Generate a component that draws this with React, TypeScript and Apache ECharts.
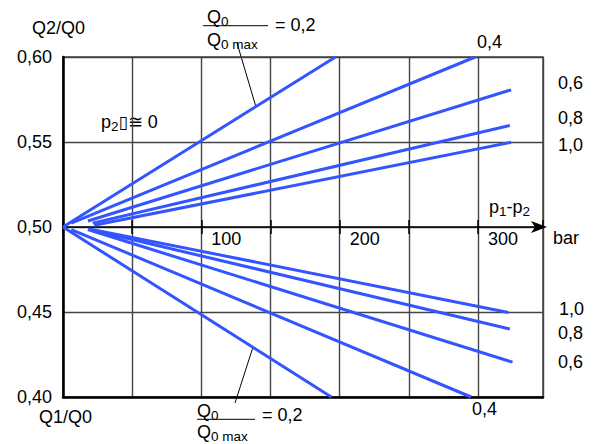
import React, { useEffect, useRef } from 'react';
import * as echarts from 'echarts';

// Axis ranges (p1-p2 in bar, Q2/Q0 ratio)
const X_MIN = 0;
const X_MAX = 347;
const X_STEP = 50;
const X_LABELS = [100, 200, 300];
const Y_MIN = 0.4;
const Y_MAX = 0.6;
const Y_STEP = 0.05;

// Curve parameter Q0/Q0max
const RATIOS = ['0,2', '0,4', '0,6', '0,8', '1,0'];

// Upper family (Q2/Q0): [start, end] points [bar, ratio]
const upper02 = [[0, 0.5], [197, 0.6]];
const upper04 = [[6, 0.5023], [298, 0.6]];
const upper06 = [[18, 0.5035], [324, 0.5807]];
const upper08 = [[21.5, 0.5023], [323, 0.5597]];
const upper10 = [[22.5, 0.501], [324, 0.5498]];

// Lower family (Q1/Q0)
const lower02 = [[0, 0.5], [194, 0.4]];
const lower04 = [[6, 0.4985], [295, 0.4]];
const lower06 = [[18, 0.4985], [325, 0.4205]];
const lower08 = [[18.5, 0.4987], [323, 0.44]];
const lower10 = [[19, 0.4989], [322, 0.4497]];

const UPPER = [upper02, upper04, upper06, upper08, upper10];
const LOWER = [lower02, lower04, lower06, lower08, lower10];

const FONT = '"Liberation Sans", Arial, sans-serif';
const BLUE = '#3355FF';
const GRID = '#444';

const RICH = {
  n: { fontSize: 18, fontFamily: FONT, color: '#000' },
  s: { fontSize: 13.5, fontFamily: FONT, color: '#000', padding: [9, 0, 0, 0] },
  b: { fontSize: 17, fontFamily: 'DejaVu Sans', color: '#000' },
};

function txt(x: number, y: number, text: string, align = 'left') {
  return {
    type: 'text',
    x,
    y,
    silent: true,
    style: {
      text,
      fill: '#000',
      fontSize: 18,
      fontFamily: FONT,
      textAlign: align,
      textVerticalAlign: 'middle',
      rich: RICH,
    },
  };
}

function seg(x1: number, y1: number, x2: number, y2: number) {
  return {
    type: 'line',
    silent: true,
    shape: { x1, y1, x2, y2 },
    style: { stroke: '#000', lineWidth: 1 },
  };
}

export default function App() {
  const ref = useRef<HTMLDivElement>(null);

  useEffect(() => {
    if (!ref.current) return;
    const chart = echarts.init(ref.current, undefined, { renderer: 'svg' });

    const series: any[] = [];
    UPPER.forEach((d, i) =>
      series.push({
        name: 'Q2 ' + RATIOS[i],
        type: 'line',
        data: d,
        showSymbol: false,
        symbol: 'none',
        silent: true,
        xAxisIndex: 0,
        yAxisIndex: 0,
        lineStyle: { color: BLUE, width: 3 },
      })
    );
    LOWER.forEach((d, i) =>
      series.push({
        name: 'Q1 ' + RATIOS[i],
        type: 'line',
        data: d,
        showSymbol: false,
        symbol: 'none',
        silent: true,
        xAxisIndex: 0,
        yAxisIndex: 0,
        lineStyle: { color: BLUE, width: 3 },
      })
    );

    const option: any = {
      animation: false,
      backgroundColor: '#fff',
      textStyle: { fontFamily: FONT },
      grid: {
        left: 63,
        top: 57,
        right: 50,
        bottom: 47,
        show: true,
        borderColor: GRID,
        borderWidth: 1.5,
        backgroundColor: 'transparent',
      },
      xAxis: [
        {
          type: 'value',
          min: X_MIN,
          max: X_MAX,
          interval: X_STEP,
          position: 'bottom',
          offset: -170,
          axisLine: {
            show: true,
            lineStyle: { color: '#000', width: 1.5 },
            symbol: ['none', 'arrow'],
            symbolSize: [9, 16],
            symbolOffset: [0, 4],
          },
          axisTick: { show: true, length: 7, lineStyle: { color: '#000', width: 1.5 } },
          axisLabel: {
            formatter: (v: number) => (X_LABELS.includes(v) ? String(v) : ''),
            align: 'left',
            padding: [0, 0, 0, 10],
            margin: 3,
            fontSize: 18,
            color: '#000',
            fontFamily: FONT,
            showMaxLabel: false,
          },
          splitLine: { show: true, lineStyle: { color: GRID, width: 1.4 } },
        },
        {
          type: 'value',
          min: X_MIN,
          max: X_MAX,
          interval: X_STEP,
          position: 'bottom',
          offset: -170,
          axisLine: { show: false },
          axisTick: { show: true, inside: true, length: 7, lineStyle: { color: '#000', width: 1.5 } },
          axisLabel: { show: false },
          splitLine: { show: false },
        },
        {
          type: 'value',
          min: X_MIN,
          max: X_MAX,
          position: 'bottom',
          offset: 0,
          axisLine: { show: true, lineStyle: { color: '#000', width: 2.5 } },
          axisTick: { show: false },
          axisLabel: { show: false },
          splitLine: { show: false },
        },
      ],
      yAxis: {
        type: 'value',
        min: Y_MIN,
        max: Y_MAX,
        interval: Y_STEP,
        axisLine: { show: true, lineStyle: { color: '#000', width: 2.5 } },
        axisTick: { show: false },
        axisLabel: {
          formatter: (v: number) => v.toFixed(2).replace('.', ','),
          margin: 11,
          fontSize: 18,
          color: '#000',
          fontFamily: FONT,
        },
        splitLine: { show: true, lineStyle: { color: GRID, width: 1.4 } },
      },
      series,
      graphic: [
        txt(32, 28, 'Q2/Q0'),
        txt(39, 417, 'Q1/Q0'),
        // top fraction
        txt(207, 17, '{n|Q}{s|0}'),
        seg(203, 25.7, 268, 25.7),
        txt(207, 40, '{n|Q}{s|0 max}'),
        txt(275, 25, '= ' + RATIOS[0]),
        seg(237, 43, 256, 107),
        // bottom fraction
        txt(197, 411, '{n|Q}{s|0}'),
        seg(197, 419.3, 255, 419.3),
        txt(197, 432, '{n|Q}{s|0 max}'),
        txt(262, 415, '= ' + RATIOS[0]),
        seg(235, 403, 253, 347),
        // upper curve labels
        txt(477, 42, RATIOS[1]),
        txt(558, 83, RATIOS[2]),
        txt(558, 118, RATIOS[3]),
        txt(558, 145, RATIOS[4]),
        // lower curve labels
        txt(559, 309, RATIOS[4]),
        txt(558, 333, RATIOS[3]),
        txt(558, 362, RATIOS[2]),
        txt(472, 409, RATIOS[1]),
        // annotations
        txt(101, 122, '{n|p}{s|2}{b|▯}{n|≅ 0}'),
        txt(489, 207, '{n|p}{s|1}{n|-p}{s|2}'),
        txt(553, 238, 'bar'),
      ],
    };

    chart.setOption(option);
    return () => chart.dispose();
  }, []);

  return (
    <div
      ref={ref}
      style={{ position: 'fixed', left: 0, top: 0, width: 593, height: 444 }}
    />
  );
}
